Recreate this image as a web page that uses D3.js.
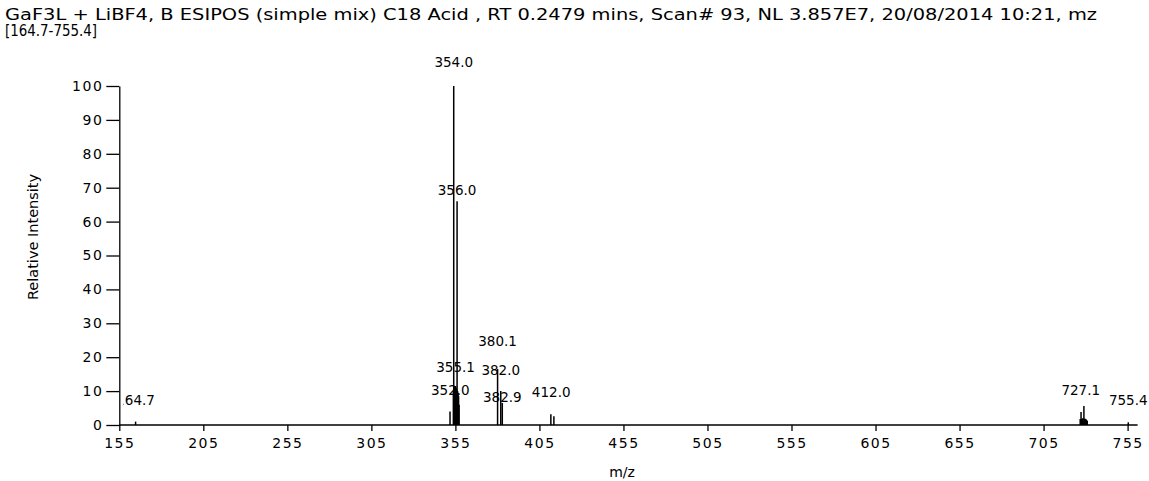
<!DOCTYPE html>
<html>
<head>
<meta charset="utf-8">
<script src="https://cdn.jsdelivr.net/npm/d3@7"></script>
<style>
  body { margin: 0; background: #fff; }
  text { font-family: "DejaVu Sans", sans-serif; fill: #000; }
</style>
</head>
<body>
<script>
// spectrum data
const titleLines = [
  'GaF3L + LiBF4, B ESIPOS (simple mix) C18 Acid  , RT 0.2479 mins, Scan# 93, NL 3.857E7, 20/08/2014 10:21, mz',
  '[164.7-755.4]'
]
const xTicks = [155, 205, 255, 305, 355, 405, 455, 505, 555, 605, 655, 705, 755]
const yTicks = [0, 10, 20, 30, 40, 50, 60, 70, 80, 90, 100]

const peakMz = [164.7, 351.8, 353.8, 354.0, 354.2, 354.5, 354.8, 355.1, 355.4, 355.7, 356.0, 356.3, 356.6, 356.9, 357.2,
  380.1, 382.0, 382.9, 411.8, 413.6,
  726.8, 727.3, 727.7, 728.1, 728.5, 729.0, 729.4, 729.8, 730.2, 730.6, 731.0, 755.4]
const peakInt = [1.0, 4.0, 10, 100, 11, 11, 10.5, 11.5, 11, 10.5, 66, 10, 9.5, 8.5, 6,
  16.5, 10, 6.5, 3.2, 2.6,
  1.8, 3.8, 1.8, 1.9, 2.0, 5.6, 1.9, 1.8, 1.7, 1.5, 1.2, 0.8]

const labelText = ['164.7', '352.0', '354.0', '355.1', '356.0', '380.1', '382.0', '382.9', '412.0', '727.1', '755.4']
const labelLevel = [5.9, 8.9, 105.6, 15.6, 67.8, 23.3, 14.7, 6.8, 8.3, 8.9, 5.9]

const width = 1149
const height = 481

const svg = d3.select('body').append('svg')
  .attr('width', width)
  .attr('height', height)

const x = d3.scaleLinear().domain([155, 755]).range([119.3, 1127.6])
const y = d3.scaleLinear().domain([0, 100]).range([425, 86])

// title, 2 lines (fitted to the original's widths)
svg.append('g').selectAll('text')
  .data(titleLines)
  .join('text')
  .attr('x', 5)
  .attr('y', (d, i) => 20 + i * 16)
  .style('font-size', '15px')
  .attr('textLength', (d, i) => i == 0 ? 1092 : 92)
  .attr('lengthAdjust', 'spacingAndGlyphs')
  .text(d => d)

// x axis
const gx = svg.append('g')
  .attr('transform', `translate(0,${y(0)})`)
  .call(d3.axisBottom(x).tickValues(xTicks).tickSize(6).tickSizeOuter(0).tickPadding(7))
gx.select('.domain').remove()
gx.append('line')
  .attr('x1', x(155)).attr('x2', x(755) + 10)
  .attr('stroke', '#000').attr('stroke-width', 1.3)
gx.selectAll('.tick line').attr('stroke-width', 1.3)
gx.selectAll('text')
  .style('font-family', '"DejaVu Sans", sans-serif')
  .style('font-size', '14px')
  .style('letter-spacing', '1.5px')
  .attr('fill', '#000')

// y axis
const gy = svg.append('g')
  .attr('transform', `translate(${x(155)},0)`)
  .call(d3.axisLeft(y).tickValues(yTicks).tickSize(13).tickSizeOuter(0).tickPadding(3))
gy.select('.domain').attr('stroke-width', 1.3)
gy.selectAll('.tick line').attr('stroke-width', 1.3)
gy.selectAll('text')
  .style('font-family', '"DejaVu Sans", sans-serif')
  .style('font-size', '14px')
  .style('letter-spacing', '1.5px')
  .attr('fill', '#000')

// axis titles
svg.append('text')
  .attr('transform', 'translate(38,237) rotate(-90)')
  .attr('text-anchor', 'middle')
  .style('font-size', '14.5px')
  .text('Relative Intensity')

svg.append('text')
  .attr('x', 622)
  .attr('y', 477)
  .attr('text-anchor', 'middle')
  .style('font-size', '14px')
  .text('m/z')

// sticks
svg.append('g').selectAll('line')
  .data(peakMz)
  .join('line')
  .attr('x1', d => x(d))
  .attr('x2', d => x(d))
  .attr('y1', y(0))
  .attr('y2', (d, i) => y(peakInt[i]))
  .attr('stroke', '#000')
  .attr('stroke-width', 1.5)

// peak labels, clipped at the y axis like the original
svg.append('clipPath').attr('id', 'plotClip')
  .append('rect')
  .attr('x', x(155) + 4).attr('y', 0)
  .attr('width', width).attr('height', height)

svg.append('g')
  .attr('clip-path', 'url(#plotClip)')
  .selectAll('text')
  .data(labelText)
  .join('text')
  .attr('x', d => x(+d))
  .attr('y', (d, i) => y(labelLevel[i]))
  .attr('text-anchor', 'middle')
  .style('font-size', '13.5px')
  .text(d => d)
</script>
</body>
</html>
